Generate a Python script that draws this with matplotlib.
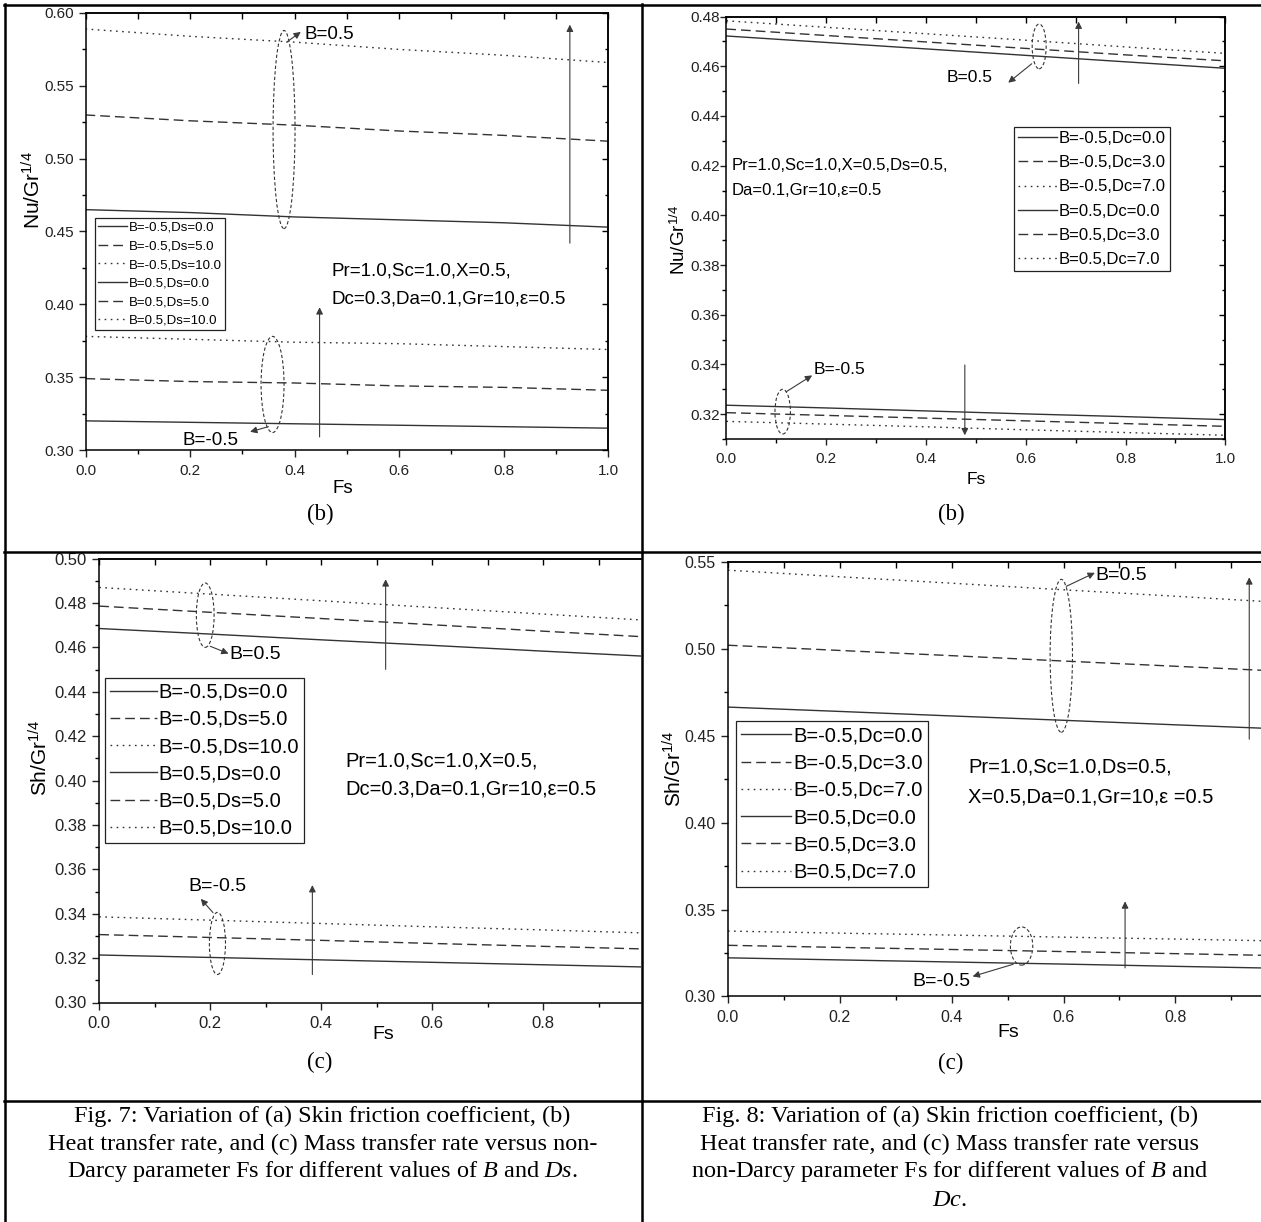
import matplotlib
matplotlib.use("Agg")
import matplotlib.pyplot as plt
from matplotlib.patches import Ellipse
from matplotlib.lines import Line2D
from matplotlib.ticker import MultipleLocator, FormatStrFormatter

plt.rcParams['font.family'] = ['Liberation Sans', 'DejaVu Sans']
plt.rcParams['mathtext.fontset'] = 'custom'
plt.rcParams['mathtext.rm'] = 'Liberation Sans'
plt.rcParams['mathtext.it'] = 'Liberation Serif:italic'

W, H = 1261, 1222

# ---- data ----
fs = [0.0, 0.2, 0.4, 0.6, 0.8, 1.0]

ds_labels = ['B=-0.5,Ds=0.0', 'B=-0.5,Ds=5.0', 'B=-0.5,Ds=10.0',
             'B=0.5,Ds=0.0', 'B=0.5,Ds=5.0', 'B=0.5,Ds=10.0']
dc_labels = ['B=-0.5,Dc=0.0', 'B=-0.5,Dc=3.0', 'B=-0.5,Dc=7.0',
             'B=0.5,Dc=0.0', 'B=0.5,Dc=3.0', 'B=0.5,Dc=7.0']

# Fig 7(b): Nu/Gr^1/4, varying Ds
nu_ds = [
    [0.320, 0.319, 0.318, 0.317, 0.316, 0.315],
    [0.349, 0.347, 0.346, 0.344, 0.343, 0.341],
    [0.378, 0.376, 0.374, 0.373, 0.371, 0.369],
    [0.465, 0.463, 0.460, 0.458, 0.456, 0.453],
    [0.530, 0.526, 0.523, 0.519, 0.516, 0.512],
    [0.589, 0.584, 0.580, 0.575, 0.571, 0.566],
]
# Fig 8(b): Nu/Gr^1/4, varying Dc
nu_dc = [
    [0.3236, 0.3225, 0.3213, 0.3201, 0.3190, 0.3178],
    [0.3206, 0.3195, 0.3184, 0.3173, 0.3162, 0.3151],
    [0.3171, 0.3160, 0.3149, 0.3137, 0.3126, 0.3115],
    [0.4722, 0.4696, 0.4670, 0.4644, 0.4618, 0.4592],
    [0.4750, 0.4724, 0.4698, 0.4672, 0.4646, 0.4622],
    [0.4783, 0.4757, 0.4731, 0.4705, 0.4678, 0.4652],
]
# Fig 7(c): Sh/Gr^1/4, varying Ds
sh_ds = [
    [0.3214, 0.3203, 0.3192, 0.3181, 0.3170, 0.3159],
    [0.3306, 0.3293, 0.3280, 0.3266, 0.3253, 0.3240],
    [0.3386, 0.3371, 0.3356, 0.3341, 0.3327, 0.3312],
    [0.4685, 0.4660, 0.4634, 0.4609, 0.4583, 0.4558],
    [0.4786, 0.4758, 0.4730, 0.4702, 0.4673, 0.4645],
    [0.4870, 0.4840, 0.4810, 0.4780, 0.4750, 0.4720],
]
# Fig 8(c): Sh/Gr^1/4, varying Dc
sh_dc = [
    [0.3222, 0.3210, 0.3198, 0.3186, 0.3173, 0.3161],
    [0.3294, 0.3282, 0.3270, 0.3258, 0.3246, 0.3234],
    [0.3376, 0.3364, 0.3353, 0.3341, 0.3330, 0.3318],
    [0.4665, 0.4640, 0.4614, 0.4589, 0.4563, 0.4538],
    [0.5021, 0.4991, 0.4961, 0.4930, 0.4900, 0.4870],
    [0.5453, 0.5415, 0.5378, 0.5340, 0.5303, 0.5265],
]

styles = ['-', (0, (7, 3.6)), (0, (1.2, 3.2))] * 2
LC = '#333333'

fig = plt.figure(figsize=(W / 100, H / 100), dpi=100)


def px_axes(x0, x1, ytop, ybot):
    return fig.add_axes([x0 / W, 1 - ybot / H, (x1 - x0) / W, (ybot - ytop) / H])


def frame(ax, xmax, ylim, ymaj, tsize, ypad, full_right=True, ticklen=5):
    ax.set_xlim(0, xmax)
    ax.set_ylim(*ylim)
    ax.xaxis.set_major_locator(MultipleLocator(0.2))
    ax.xaxis.set_minor_locator(MultipleLocator(0.1))
    ax.yaxis.set_major_locator(MultipleLocator(ymaj))
    ax.yaxis.set_minor_locator(MultipleLocator(ymaj / 2))
    ax.xaxis.set_major_formatter(FormatStrFormatter('%.1f'))
    ax.yaxis.set_major_formatter(FormatStrFormatter('%.2f'))
    ax.tick_params(which='major', direction='out', length=ticklen, width=1,
                   labelsize=tsize, colors='#222')
    ax.tick_params(which='minor', direction='out', length=3, width=1)
    ax.tick_params(axis='x', pad=5)
    ax.tick_params(axis='y', pad=ypad)
    for s in ax.spines.values():
        s.set_linewidth(1.1)
    top = ax.secondary_xaxis('top')
    top.xaxis.set_major_locator(MultipleLocator(0.1))
    top.tick_params(direction='in', length=4, width=1, labeltop=False)
    top.spines['top'].set_linewidth(1.1)
    if full_right:
        right = ax.secondary_yaxis('right')
        right.yaxis.set_major_locator(MultipleLocator(ymaj))
        right.yaxis.set_minor_locator(MultipleLocator(ymaj / 2))
        right.tick_params(which='major', direction='in', length=4, width=1, labelright=False)
        right.tick_params(which='minor', direction='in', length=2.5, width=1)
        right.spines['right'].set_linewidth(1.1)
    else:
        ax.spines['right'].set_visible(False)


def curves(ax, vals, labels):
    for v, lab, st in zip(vals, labels, styles):
        ax.plot(fs, v, ls=st, color=LC, lw=1.0, label=lab)


def ring(ax, cx, cy, w, h):
    ax.add_patch(Ellipse((cx, cy), w, h, fill=False, ls=(0, (3, 2)), lw=0.8, ec='#333'))


def arrow(ax, tail, head):
    ax.annotate('', xy=head, xytext=tail,
                arrowprops=dict(arrowstyle='-|>', color='#3a3a3a', lw=0.8,
                                mutation_scale=10, shrinkA=0, shrinkB=0))


def legend(ax, x, y, size, hl, ls):
    lg = ax.legend(loc='upper left', bbox_to_anchor=(x, y), bbox_transform=ax.transData,
                   fontsize=size, frameon=True, fancybox=False, framealpha=1,
                   edgecolor='#222', borderpad=0.25, borderaxespad=0, handlelength=hl,
                   handletextpad=0.1, labelspacing=ls)
    lg.get_frame().set_linewidth(0.9)


# ---- Fig 7(b) ----
ax1 = px_axes(85.5, 608, 13, 450)
frame(ax1, 1.0, (0.30, 0.60), 0.05, 11, 3.5)
curves(ax1, nu_ds, ds_labels)
ring(ax1, 0.38, 0.520, 0.042, 0.136)
ring(ax1, 0.358, 0.345, 0.044, 0.066)
arrow(ax1, (0.385, 0.580), (0.412, 0.587))
arrow(ax1, (0.35, 0.316), (0.315, 0.3125))
arrow(ax1, (0.927, 0.442), (0.927, 0.592))
arrow(ax1, (0.448, 0.309), (0.448, 0.398))
ax1.text(0.42, 0.585, 'B=0.5', fontsize=13.5, va='center')
ax1.text(0.186, 0.3064, 'B=-0.5', fontsize=13.5, va='center')
ax1.text(0.47, 0.423, 'Pr=1.0,Sc=1.0,X=0.5,', fontsize=13.5, va='center')
ax1.text(0.47, 0.404, 'Dc=0.3,Da=0.1,Gr=10,\u03b5=0.5', fontsize=13.5, va='center')
legend(ax1, 0.018, 0.459, 9.5, 2.2, 0.48)
ax1.set_xlabel('Fs', fontsize=13.5, va='center')
ax1.xaxis.set_label_coords(0.493, -0.087)
ax1.set_ylabel('Nu/Gr$^{1/4}$', fontsize=15, va='center')
ax1.yaxis.set_label_coords(-0.101, 0.594)

# ---- Fig 8(b) ----
ax2 = px_axes(726.3, 1225.3, 16.6, 439)
frame(ax2, 1.0, (0.31, 0.48), 0.02, 11, 0.5, ticklen=4)
curves(ax2, nu_dc, dc_labels)
ring(ax2, 0.627, 0.468, 0.028, 0.018)
ring(ax2, 0.113, 0.321, 0.031, 0.018)
arrow(ax2, (0.612, 0.461), (0.565, 0.4534))
arrow(ax2, (0.12, 0.329), (0.172, 0.3356))
arrow(ax2, (0.706, 0.4531), (0.706, 0.478))
arrow(ax2, (0.478, 0.3398), (0.478, 0.3115))
ax2.text(0.442, 0.4555, 'B=0.5', fontsize=12.5, va='center')
ax2.text(0.176, 0.3379, 'B=-0.5', fontsize=12.5, va='center')
ax2.text(0.011, 0.420, 'Pr=1.0,Sc=1.0,X=0.5,Ds=0.5,', fontsize=12, va='center')
ax2.text(0.011, 0.410, 'Da=0.1,Gr=10,\u03b5=0.5', fontsize=12, va='center')
legend(ax2, 0.577, 0.4356, 12, 2.3, 0.55)
ax2.set_xlabel('Fs', fontsize=12.5, va='center')
ax2.xaxis.set_label_coords(0.500, -0.095)
ax2.set_ylabel('Nu/Gr$^{1/4}$', fontsize=13.5, va='center')
ax2.yaxis.set_label_coords(-0.094, 0.472)

# ---- Fig 7(c) ----
ax3 = px_axes(99.2, 641, 558.6, 1002.5)
frame(ax3, 0.976, (0.30, 0.50), 0.02, 12, 4, full_right=False)
curves(ax3, sh_ds, ds_labels)
ring(ax3, 0.191, 0.4745, 0.032, 0.029)
ring(ax3, 0.213, 0.3266, 0.029, 0.028)
arrow(ax3, (0.2, 0.4605), (0.233, 0.4572))
arrow(ax3, (0.205, 0.3405), (0.183, 0.3467))
arrow(ax3, (0.516, 0.4501), (0.516, 0.4907))
arrow(ax3, (0.384, 0.3126), (0.384, 0.3529))
ax3.text(0.235, 0.4566, 'B=0.5', fontsize=14, va='center')
ax3.text(0.16, 0.3523, 'B=-0.5', fontsize=14, va='center')
ax3.text(0.443, 0.4086, 'Pr=1.0,Sc=1.0,X=0.5,', fontsize=14.5, va='center')
ax3.text(0.443, 0.396, 'Dc=0.3,Da=0.1,Gr=10,\u03b5=0.5', fontsize=14.5, va='center')
legend(ax3, 0.011, 0.4464, 14.5, 2.3, 0.41)
ax3.set_xlabel('Fs', fontsize=14, va='center')
ax3.xaxis.set_label_coords(0.524, -0.072)
ax3.set_ylabel('Sh/Gr$^{1/4}$', fontsize=15, va='center')
ax3.yaxis.set_label_coords(-0.110, 0.551)

# ---- Fig 8(c) ----
ax4 = px_axes(727.9, 1261, 562, 996.4)
frame(ax4, 0.953, (0.30, 0.55), 0.05, 11.5, 4, full_right=False)
curves(ax4, sh_dc, dc_labels)
ring(ax4, 0.596, 0.496, 0.04, 0.088)
ring(ax4, 0.525, 0.329, 0.04, 0.022)
arrow(ax4, (0.605, 0.536), (0.656, 0.5438))
arrow(ax4, (0.51, 0.3185), (0.4375, 0.3115))
arrow(ax4, (0.932, 0.448), (0.932, 0.5412))
arrow(ax4, (0.71, 0.3164), (0.71, 0.3547))
ax4.text(0.657, 0.5422, 'B=0.5', fontsize=14, va='center')
ax4.text(0.33, 0.3088, 'B=-0.5', fontsize=14, va='center')
ax4.text(0.43, 0.4322, 'Pr=1.0,Sc=1.0,Ds=0.5,', fontsize=14.5, va='center')
ax4.text(0.43, 0.4147, 'X=0.5,Da=0.1,Gr=10,\u03b5 =0.5', fontsize=14.5, va='center')
legend(ax4, 0.014, 0.4583, 14.5, 2.5, 0.41)
ax4.set_xlabel('Fs', fontsize=14, va='center')
ax4.xaxis.set_label_coords(0.525, -0.084)
ax4.set_ylabel('Sh/Gr$^{1/4}$', fontsize=15, va='center')
ax4.yaxis.set_label_coords(-0.102, 0.524)

# ---- sub captions ----
serif = ['Liberation Serif', 'DejaVu Serif']
for x, y, s in [(320, 514, '(b)'), (951, 514, '(b)'), (320, 1062, '(c)'), (951, 1063, '(c)')]:
    fig.text(x / W, 1 - y / H, s, fontsize=16.5, family=serif, ha='center', va='center')

cap7 = ['Fig. 7: Variation of (a) Skin friction coefficient, (b)',
        'Heat transfer rate, and (c) Mass transfer rate versus non-',
        'Darcy parameter Fs for different values of $B$ and $Ds$.']
cap8 = ['Fig. 8: Variation of (a) Skin friction coefficient, (b)',
        'Heat transfer rate, and (c) Mass transfer rate versus',
        'non-Darcy parameter Fs for different values of $B$ and',
        '$Dc$.']
for xc, lines in [(322.5, cap7), (950, cap8)]:
    for i, s in enumerate(lines):
        fig.text(xc / W, 1 - (1116 + 28 * i) / H, s, fontsize=17.5, family=serif,
                 ha='center', va='center')

# ---- table grid ----
def hline(y, x0=4, x1=W):
    fig.add_artist(Line2D([x0 / W, x1 / W], [1 - y / H] * 2, color='k', lw=1.8))


def vline(x, y0=3.5, y1=H):
    fig.add_artist(Line2D([x / W] * 2, [1 - y0 / H, 1 - y1 / H], color='k', lw=1.8))


hline(4.5)
hline(552)
hline(1101)
vline(4.5)
vline(641.5)

fig.savefig('out.png', dpi=100)
